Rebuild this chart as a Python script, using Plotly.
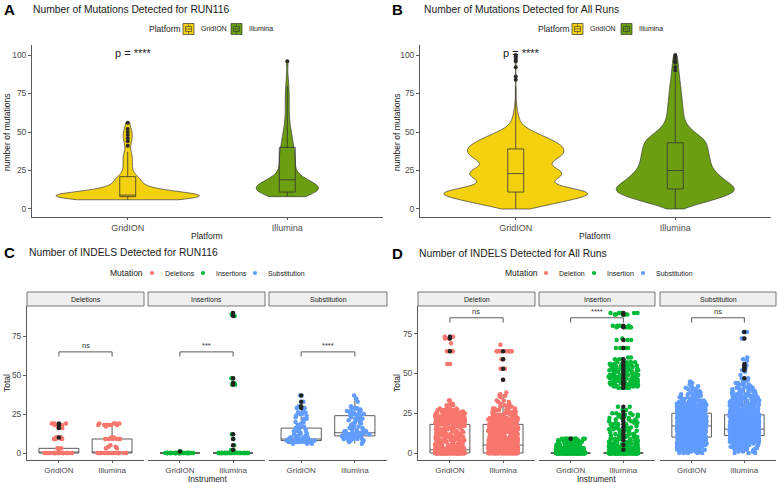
import numpy as np
import plotly.graph_objects as go

W, H = 777, 483
FONT = "Liberation Sans, Arial, Helvetica, sans-serif"
PLATFORMS = ["GridION", "Illumina"]
PLATFORM_COLORS = ["#F4D10E", "#6B9E10"]
MUT_COLORS = ["#F8766D", "#00BA38", "#619CFF"]

# ---------------- Panel A: mutations, RUN116 ----------------
A_GRID_VALUES = [6, 7, 8, 9, 10, 11, 12, 13, 14, 15, 16, 17, 18, 19, 20, 21, 23, 25, 27, 29, 31, 33, 35, 37,
                 41, 44, 46, 48, 50, 52, 56]
A_GRID_COUNTS = [4, 10, 16, 14, 6, 4, 3, 2, 2, 2, 1, 2, 1, 2, 1, 2, 1, 1, 1, 1, 1, 1, 1, 1,
                 1, 1, 1, 1, 1, 1, 1]
A_ILL_VALUES = [8, 9, 10, 11, 12, 13, 14, 15, 16, 17, 18, 19, 20, 22, 24, 26, 28, 30, 32, 34, 36, 38, 40,
                43, 46, 49, 52, 55, 58, 62, 66, 70, 74, 78, 84, 96]
A_ILL_COUNTS = [2, 3, 4, 5, 6, 6, 6, 5, 4, 3, 3, 2, 2, 2, 2, 2, 2, 2, 2, 2, 2, 2, 2,
                2, 2, 2, 1, 1, 1, 1, 1, 1, 1, 1, 1, 1]
A_Q1 = [8, 11]
A_MEDIAN = [9, 19]
A_Q3 = [21, 40]
A_LOWER = [6, 8]
A_UPPER = [37, 80]
A_GRID_OUTLIERS = [41, 44, 46, 48, 50, 52, 56]
A_ILL_OUTLIERS = [96]

# ---------------- Panel B: mutations, all runs ----------------
B_GRID_VALUES = [0, 2, 4, 6, 8, 10, 12, 14, 16, 18, 20, 22, 24, 26, 28, 30, 32, 34, 36, 38, 40, 42, 44, 46, 48,
                 50, 52, 54, 56, 58, 60, 62, 64, 66, 68, 70, 74, 78, 84, 86, 92, 96, 98, 100]
B_GRID_COUNTS = [18, 35, 55, 72, 90, 100, 90, 64, 50, 46, 55, 61, 61, 54, 46, 44, 51, 58, 62, 63, 62, 57, 50, 42, 33,
                 24, 16, 10, 7, 5, 4, 3, 2, 2, 1, 1, 1, 1, 1, 1, 1, 1, 1, 1]
B_ILL_VALUES = [0, 2, 4, 6, 8, 10, 12, 14, 16, 18, 20, 22, 24, 26, 28, 30, 32, 34, 36, 38, 40, 42, 44, 46, 48,
                50, 52, 54, 56, 58, 60, 62, 64, 66, 68, 70, 72, 74, 76, 78, 80, 82, 84, 86, 88, 90, 92, 94, 96, 98, 100]
B_ILL_COUNTS = [10, 25, 45, 62, 80, 93, 100, 97, 90, 82, 76, 70, 65, 61, 58, 57, 56, 55, 54, 53, 52, 51, 49, 45, 38,
                30, 25, 20, 17, 15, 14, 13, 13, 12, 12, 11, 11, 10, 10, 9, 9, 8, 7, 7, 6, 6, 5, 5, 4, 4, 3]
B_Q1 = [11, 13]
B_MEDIAN = [23, 25]
B_Q3 = [39, 43]
B_LOWER = [0, 0]
B_UPPER = [80, 88]
B_GRID_OUTLIERS = [84, 86, 92, 96, 97, 98, 99, 100]
B_ILL_OUTLIERS = [90, 92, 95, 96, 97, 98, 99, 100]

# ---------------- Panel C: INDELS, RUN116 ----------------
C_FACETS = ["Deletions", "Insertions", "Substitution"]
C_DEL_GRID_VALUES = [0, 1, 3, 9, 10, 16, 18, 19]
C_DEL_GRID_COUNTS = [24, 1, 3, 5, 4, 2, 4, 3]
C_DEL_ILL_VALUES = [0, 3, 4, 5, 9, 10, 17, 18, 19]
C_DEL_ILL_COUNTS = [18, 2, 2, 1, 8, 2, 1, 7, 4]
C_INS_GRID_VALUES = [0, 1]
C_INS_GRID_COUNTS = [45, 2]
C_INS_ILL_VALUES = [0, 1, 2, 5, 9, 12, 44, 45, 48, 88, 89, 90]
C_INS_ILL_COUNTS = [38, 2, 2, 1, 1, 1, 3, 2, 2, 1, 1, 1]
C_SUB_GRID_VALUES = [6, 7, 8, 9, 10, 11, 12, 13, 14, 15, 16, 17, 18, 19, 20, 22, 23, 24, 25, 26, 27, 29, 30, 33, 37]
C_SUB_GRID_COUNTS = [3, 8, 10, 8, 5, 3, 3, 2, 2, 2, 2, 1, 1, 1, 2, 2, 1, 2, 2, 3, 1, 2, 1, 1, 2]
C_SUB_ILL_VALUES = [6, 7, 8, 9, 10, 11, 12, 13, 14, 15, 16, 17, 18, 19, 20, 21, 22, 23, 24, 25, 26, 27, 28, 29,
                    30, 33, 35, 37]
C_SUB_ILL_COUNTS = [1, 2, 3, 4, 6, 7, 6, 5, 4, 3, 3, 2, 3, 2, 3, 3, 3, 2, 3, 3, 3, 2, 3, 2, 1, 1, 1, 1]
# box stats per facet: [GridION, Illumina]
C_Q1 = [[0, 0], [0, 0], [8, 11]]
C_MEDIAN = [[0, 0], [0, 0], [9, 13]]
C_Q3 = [[3, 9], [0, 0], [16, 24]]
C_LOWER = [[0, 0], [0, 0], [6, 6]]
C_UPPER = [[3, 19], [0, 0], [27, 37]]
C_OUTLIERS_GRID = [[10, 16, 18, 19], [1], [29, 30, 33, 37]]
C_OUTLIERS_ILL = [[], [2, 5, 9, 12, 44, 45, 48, 88, 90], []]
C_BRACKET_Y = 65
C_SIGNIF = ["ns", "***", "****"]

# ---------------- Panel D: INDELS, all runs ----------------
D_FACETS = ["Deletion", "Insertion", "Substitution"]
D_DEL_GRID_VALUES = [0, 1, 2, 3, 4, 5, 6, 7, 8, 9, 10, 11, 12, 13, 14, 15, 16, 17, 18, 19, 20, 21, 22, 23, 24, 25,
                     26, 27, 28, 30, 31, 33, 56, 64, 69, 72, 73]
D_DEL_GRID_COUNTS = [220, 50, 40, 15, 12, 10, 10, 10, 10, 10, 10, 8, 8, 8, 8, 8, 8, 8, 10, 18, 18, 18, 16, 16, 14, 12,
                     10, 8, 5, 2, 2, 2, 2, 3, 1, 2, 3]
D_DEL_ILL_VALUES = [0, 1, 2, 3, 4, 5, 6, 7, 8, 9, 10, 11, 12, 13, 14, 15, 16, 17, 18, 19, 20, 21, 22, 23, 24, 25,
                    26, 27, 28, 29, 30, 31, 32, 33, 35, 36, 37, 38, 46, 53, 59, 64, 68]
D_DEL_ILL_COUNTS = [130, 40, 35, 35, 35, 30, 15, 14, 14, 14, 14, 12, 12, 12, 12, 12, 12, 12, 14, 12, 12, 10, 10, 9, 8,
                    7, 6, 5, 4, 3, 2, 2, 2, 2, 1, 2, 1, 1, 1, 2, 2, 10, 1]
D_INS_GRID_VALUES = [0, 1, 2, 3, 4, 5, 6, 7, 8, 9]
D_INS_GRID_COUNTS = [300, 30, 25, 22, 20, 18, 16, 15, 14, 12]
D_INS_ILL_VALUES = [0, 1, 2, 3, 4, 5, 6, 7, 8, 9, 10, 11, 12, 13, 14, 15, 16, 17, 18, 19, 20, 21, 22, 23, 24, 25,
                    27, 29, 41, 42, 43, 44, 45, 46, 47, 48, 49, 50, 51, 52, 53, 54, 55, 56, 57, 59, 60, 66, 71,
                    72, 79, 80, 87, 88]
D_INS_ILL_COUNTS = [300, 25, 20, 18, 15, 12, 10, 8, 6, 6, 5, 4, 5, 4, 4, 4, 3, 3, 4, 3, 4, 3, 3, 3, 4, 3,
                    2, 2, 6, 8, 10, 14, 16, 12, 10, 10, 8, 6, 5, 6, 6, 5, 6, 5, 6, 3, 2, 6, 3,
                    1, 5, 4, 6, 5]
D_SUB_GRID_VALUES = list(range(0, 46))
D_SUB_GRID_COUNTS = [5, 8, 10, 13, 15, 18, 20, 23, 25, 28, 29, 30, 31, 32, 33, 33, 33, 33, 33, 32, 30, 29, 27, 25,
                     23, 21, 19, 17, 15, 14, 12, 11, 9, 8, 7, 6, 5, 4, 4, 3, 3, 2, 2, 1, 1, 1]
D_SUB_ILL_VALUES = list(range(0, 48)) + [49, 51, 52, 53, 55, 56, 58, 59, 60, 72, 76]
D_SUB_ILL_COUNTS = [3, 4, 5, 6, 8, 10, 12, 15, 18, 22, 26, 30, 32, 33, 33, 32, 30, 28, 26, 24, 22, 21, 20, 19, 18,
                    17, 16, 15, 14, 13, 12, 11, 10, 9, 8, 7, 6, 6, 5, 5, 4, 4, 3, 3, 3, 2, 2, 2,
                    1, 1, 1, 1, 2, 1, 1, 1, 1, 2, 2]
D_Q1 = [[0, 0], [0, 0], [10, 11]]
D_MEDIAN = [[2, 5], [0, 0], [17, 15]]
D_Q3 = [[18, 18], [0, 0], [25, 24]]
D_LOWER = [[0, 0], [0, 0], [0, 0]]
D_UPPER = [[33, 37], [0, 0], [45, 46]]
D_OUTLIERS_GRID = [[64, 72, 73], [9], []]
D_OUTLIERS_ILL = [[46, 53, 59, 64],
                  [2, 5, 8, 10, 12, 14, 16, 18, 20, 22, 24, 26, 29, 41, 43, 44, 45, 47, 49, 51, 53, 55, 57, 59,
                   66, 71, 79, 80, 87, 88],
                  [47, 52, 53, 54, 55, 56, 72, 76]]
D_BRACKET_Y = 85
D_SIGNIF = ["ns", "****", "ns"]


def expand(values, counts):
    return np.repeat(np.array(values, dtype=float), np.array(counts)).tolist()


def xd(l, r):
    return [l / W, r / W]


def yd(t, b):
    return [1 - b / H, 1 - t / H]


fig = go.Figure()
annotations = []
shapes = []

AXLINE = "#5a5a5a"
TICKCOL = "#4D4D4D"


def x_axis(dom, anchor, size):
    return dict(domain=dom, anchor=anchor, type="category", categoryorder="array",
                categoryarray=PLATFORMS, range=[-0.6, 1.6], showline=True, linecolor=AXLINE,
                linewidth=0.9, ticks="outside", ticklen=2.5, tickwidth=0.9, tickcolor=AXLINE,
                showgrid=False, zeroline=False,
                tickfont=dict(family=FONT, size=size, color=TICKCOL))


def y_axis(dom, anchor, rng, tickvals, show=True):
    d = dict(domain=dom, anchor=anchor, range=rng, showgrid=False, zeroline=False)
    if show:
        d.update(showline=True, linecolor=AXLINE, linewidth=0.9, ticks="outside", ticklen=3,
                 tickwidth=0.9, tickcolor=AXLINE, tickvals=tickvals,
                 tickfont=dict(family=FONT, size=8.5, color=TICKCOL))
    else:
        d.update(showline=False, showticklabels=False, ticks="")
    return d


def ann(text, x, y, size, xanchor="center", yanchor="middle", color="#1a1a1a", angle=0, bold=False,
        xref="paper", yref="paper", xshift=0):
    if xref == "paper":
        x = x / W
    if yref == "paper":
        y = 1 - y / H
    if bold:
        text = "<b>" + text + "</b>"
    annotations.append(dict(text=text, x=x, y=y, xref=xref, yref=yref, showarrow=False,
                            xanchor=xanchor, yanchor=yanchor, textangle=angle, xshift=xshift,
                            font=dict(family=FONT, size=size, color=color)))


def rect(x0, y0, x1, y1, fill, line="#333333", width=0.7):
    shapes.append(dict(type="rect", xref="paper", yref="paper", x0=x0 / W, x1=x1 / W,
                       y0=1 - y1 / H, y1=1 - y0 / H, fillcolor=fill,
                       line=dict(color=line, width=width)))


def seg(x0, y0, x1, y1, color="#333333", width=0.7):
    shapes.append(dict(type="line", xref="paper", yref="paper", x0=x0 / W, x1=x1 / W,
                       y0=1 - y0 / H, y1=1 - y1 / H, line=dict(color=color, width=width)))


def dot(cx, cy, color, r=2.1):
    shapes.append(dict(type="circle", xref="paper", yref="paper", x0=(cx - r) / W, x1=(cx + r) / W,
                       y0=1 - (cy + r) / H, y1=1 - (cy - r) / H, fillcolor=color,
                       line=dict(width=0)))


layout = dict(width=W, height=H, margin=dict(l=0, r=0, t=0, b=0), paper_bgcolor="white",
              plot_bgcolor="white", showlegend=False, font=dict(family=FONT))

# ---------------- violin panels A & B ----------------
violin_panels = [
    ("", [32, 383], [A_GRID_VALUES, A_ILL_VALUES], [A_GRID_COUNTS, A_ILL_COUNTS], [0.9, 0.39], [2.6, 4.2],
     A_Q1, A_MEDIAN, A_Q3, A_LOWER, A_UPPER, [A_GRID_OUTLIERS, A_ILL_OUTLIERS]),
    ("2", [420, 771], [B_GRID_VALUES, B_ILL_VALUES], [B_GRID_COUNTS, B_ILL_COUNTS], [0.9, 0.74], [1.8, 2.4],
     B_Q1, B_MEDIAN, B_Q3, B_LOWER, B_UPPER, [B_GRID_OUTLIERS, B_ILL_OUTLIERS]),
]
for suf, xdom_px, vals, cnts, widths, bws, q1, med, q3, lo, up, outl in violin_panels:
    xa, ya = "x" + suf, "y" + suf
    layout["xaxis" + suf] = x_axis(xd(*xdom_px), ya, 9)
    layout["yaxis" + suf] = y_axis(yd(45, 217), xa, [-5.2, 106.5], [0, 25, 50, 75, 100])
    for i, p in enumerate(PLATFORMS):
        y = expand(vals[i], cnts[i])
        fig.add_trace(go.Violin(x=[p] * len(y), y=y, xaxis=xa, yaxis=ya, width=widths[i],
                                bandwidth=bws[i], spanmode="hard", points=False,
                                fillcolor=PLATFORM_COLORS[i], line=dict(color="#3a3a3a", width=0.7),
                                opacity=1, hoverinfo="skip", name=p))
    fig.add_trace(go.Box(x=PLATFORMS, q1=q1, median=med, q3=q3, lowerfence=lo, upperfence=up,
                         xaxis=xa, yaxis=ya, width=0.1, whiskerwidth=0, boxpoints=False,
                         fillcolor="rgba(0,0,0,0)", line=dict(color="#333333", width=0.8)))
    for i, p in enumerate(PLATFORMS):
        fig.add_trace(go.Scatter(x=[p] * len(outl[i]), y=outl[i], mode="markers", xaxis=xa, yaxis=ya,
                                 marker=dict(color="#2b2b2b", size=4)))
    ann("p = ****", 0, 101.5, 11, xref=xa, yref=ya, xshift=5, color="#1a1a1a")

# ---------------- facet panels C & D ----------------
facet_panels = [
    (["3", "4", "5"], [[27, 144], [148, 265], [269, 387]], [-4.5, 94.5],
     [[C_DEL_GRID_VALUES, C_DEL_GRID_COUNTS, C_DEL_ILL_VALUES, C_DEL_ILL_COUNTS],
      [C_INS_GRID_VALUES, C_INS_GRID_COUNTS, C_INS_ILL_VALUES, C_INS_ILL_COUNTS],
      [C_SUB_GRID_VALUES, C_SUB_GRID_COUNTS, C_SUB_ILL_VALUES, C_SUB_ILL_COUNTS]],
     C_Q1, C_MEDIAN, C_Q3, C_LOWER, C_UPPER, C_OUTLIERS_GRID, C_OUTLIERS_ILL, C_FACETS, C_BRACKET_Y, C_SIGNIF),
    (["6", "7", "8"], [[418, 535], [539, 655], [660, 776]], [-4.4, 92.4],
     [[D_DEL_GRID_VALUES, D_DEL_GRID_COUNTS, D_DEL_ILL_VALUES, D_DEL_ILL_COUNTS],
      [D_INS_GRID_VALUES, D_INS_GRID_COUNTS, D_INS_ILL_VALUES, D_INS_ILL_COUNTS],
      [D_SUB_GRID_VALUES, D_SUB_GRID_COUNTS, D_SUB_ILL_VALUES, D_SUB_ILL_COUNTS]],
     D_Q1, D_MEDIAN, D_Q3, D_LOWER, D_UPPER, D_OUTLIERS_GRID, D_OUTLIERS_ILL, D_FACETS, D_BRACKET_Y, D_SIGNIF),
]
for sufs, doms, yr, data, q1, med, q3, lo, up, og, oi, facets, by, sig in facet_panels:
    for k, suf in enumerate(sufs):
        xa, ya = "x" + suf, "y" + suf
        layout["xaxis" + suf] = x_axis(xd(*doms[k]), ya, 8)
        layout["yaxis" + suf] = y_axis(yd(306, 460), xa, yr, [0, 25, 50, 75], show=(k == 0))
        gv, gc, iv, ic = data[k]
        fig.add_trace(go.Box(x=PLATFORMS, q1=q1[k], median=med[k], q3=q3[k], lowerfence=lo[k],
                             upperfence=up[k], xaxis=xa, yaxis=ya, width=0.75, whiskerwidth=0,
                             boxpoints=False, fillcolor="rgba(255,255,255,0)",
                             line=dict(color="#333333", width=0.8)))
        yg = expand(gv, gc)
        yi = expand(iv, ic)
        fig.add_trace(go.Box(x=["GridION"] * len(yg) + ["Illumina"] * len(yi), y=yg + yi,
                             xaxis=xa, yaxis=ya, width=0.75, boxpoints="all", jitter=0.75, pointpos=0,
                             fillcolor="rgba(0,0,0,0)", line=dict(width=0, color="rgba(0,0,0,0)"),
                             marker=dict(color=MUT_COLORS[k], size=4.5, opacity=1)))
        for p, ol in zip(PLATFORMS, [og[k], oi[k]]):
            if ol:
                fig.add_trace(go.Scatter(x=[p] * len(ol), y=ol, mode="markers", xaxis=xa, yaxis=ya,
                                         marker=dict(color="#222222", size=4.5)))
        # significance bracket
        for x0, x1, y0, y1 in [(0, 1, by, by), (0, 0, by, by - 3), (1, 1, by, by - 3)]:
            shapes.append(dict(type="line", xref=xa, yref=ya, x0=x0, x1=x1, y0=y0, y1=y1,
                               line=dict(color="#333333", width=0.8)))
        annotations.append(dict(text=sig[k], x=0.5, y=by, xref=xa, yref=ya, showarrow=False,
                                yanchor="bottom", xanchor="center",
                                font=dict(family=FONT, size=7.5, color="#333333")))
        # strip
        l, r = doms[k]
        rect(l, 292, r, 306, "#EFEFEF", line="#555555", width=0.8)
        ann(facets[k], (l + r) / 2, 299.5, 7, color="#1a1a1a")

fig.update_layout(**layout)

# ---------------- titles and labels ----------------
ann("A", 2, 10, 15, xanchor="left", bold=True, color="#000000")
ann("B", 390, 10, 15, xanchor="left", bold=True, color="#000000")
ann("C", 2, 252, 15, xanchor="left", bold=True, color="#000000")
ann("D", 390, 253, 15, xanchor="left", bold=True, color="#000000")
ann("Number of Mutations Detected for RUN116", 31, 9, 10.3, xanchor="left")
ann("Number of Mutations Detected for All Runs", 422, 9, 10.3, xanchor="left")
ann("Number of INDELS Detected for RUN116", 27, 252, 10.3, xanchor="left")
ann("Number of INDELS Detected for All Runs", 417, 253, 10.3, xanchor="left")

ann("number of mutations", 7, 133, 8.5, angle=-90)
ann("number of mutations", 397, 133, 8.5, angle=-90)
ann("Platform", 207, 236, 8.5)
ann("Platform", 595, 236, 8.5)
ann("Total", 7, 383, 8.5, angle=-90)
ann("Total", 397, 383, 8.5, angle=-90)
ann("Instrument", 207, 479.5, 8.2)
ann("Instrument", 596, 479.5, 8.2)

# ---------------- legends ----------------
def platform_key(x0, y0, color):
    x1, y1 = x0 + 11, y0 + 11
    rect(x0, y0, x1, y1, color, line="#333333", width=0.7)
    rect(x0 + 2.5, y0 + 3, x1 - 2.5, y1 - 3, "rgba(0,0,0,0)", line="#333333", width=0.6)
    seg(x0 + 2.5, (y0 + y1) / 2, x1 - 2.5, (y0 + y1) / 2, width=0.6)
    seg((x0 + x1) / 2, y0 + 1, (x0 + x1) / 2, y0 + 3, width=0.6)
    seg((x0 + x1) / 2, y1 - 3, (x0 + x1) / 2, y1 - 1, width=0.6)


for base, kx in [(147, [183, 231]), (536, [572, 621])]:
    ann("Platform", base, 29, 8.5, xanchor="left")
    for i, p in enumerate(PLATFORMS):
        platform_key(kx[i], 23.5, PLATFORM_COLORS[i])
        ann(p, kx[i] + 16, 29, 7, xanchor="left")

ann("Mutation", 108, 273, 8.5, xanchor="left")
for i, (dx, lab) in enumerate(zip([152, 203, 255], ["Deletions", "Insertions", "Substitution"])):
    dot(dx, 273, MUT_COLORS[i])
    ann(lab, dx + 11, 273, 7, xanchor="left")
ann("Mutation", 503, 273, 8.5, xanchor="left")
for i, (dx, lab) in enumerate(zip([546, 594, 643], ["Deletion", "Insertion", "Substitution"])):
    dot(dx, 273, MUT_COLORS[i])
    ann(lab, dx + 11, 273, 7, xanchor="left")

fig.update_layout(annotations=annotations, shapes=shapes)
fig.write_html("out.html", config={"displayModeBar": False},
               post_script="document.body.style.margin='0';document.body.style.overflow='hidden';")
